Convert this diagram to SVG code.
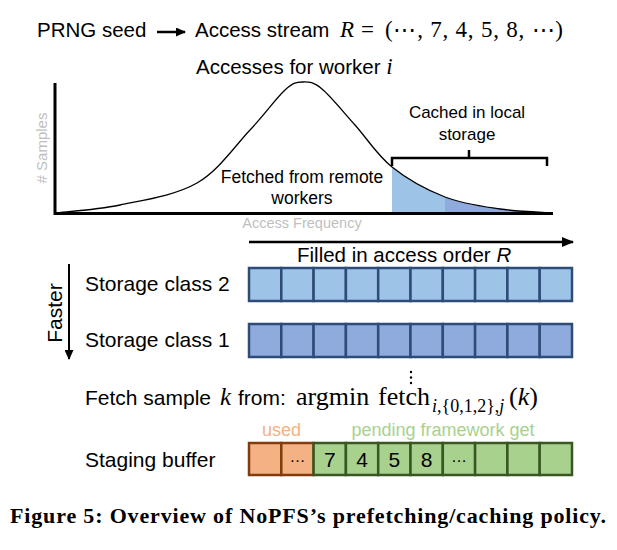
<svg xmlns="http://www.w3.org/2000/svg" width="617" height="550" viewBox="0 0 617 550">
<style>
  .sans { font-family: "Liberation Sans", Arial, sans-serif; fill: #000; }
  .serif { font-family: "Liberation Serif", "DejaVu Serif", serif; fill: #000; }
  .gray { fill: #BFBFBF; }
  .orange-t { fill: #F4B183; }
  .green-t { fill: #A9D18E; }
  .c2 { fill: #9DC3E6; stroke: #2F4C78; stroke-width: 2.5; }
  .c1 { fill: #8FAADC; stroke: #2F4C78; stroke-width: 2.5; }
  .used { fill: #F4B183; stroke: #843C0C; stroke-width: 2.5; }
  .pend { fill: #A9D18E; stroke: #385723; stroke-width: 2.5; }
  .conn { stroke: #000; fill: none; }
</style>
<defs>
  <marker id="ah" markerUnits="userSpaceOnUse" markerWidth="12" markerHeight="10" refX="11" refY="5" orient="auto">
    <path d="M0,0 L12,5 L0,10 Z" fill="#000"/>
  </marker>
  <marker id="ahs" markerUnits="userSpaceOnUse" markerWidth="10" markerHeight="9" refX="9" refY="4.5" orient="auto">
    <path d="M0,0 L10,4.5 L0,9 Z" fill="#000"/>
  </marker>
</defs>

<g id="title">
  <text class="sans" x="37" y="37" font-size="20.5">PRNG seed</text>
  <text class="sans" x="195" y="37" font-size="20.5">Access stream</text>
  <text class="serif" x="340" y="37" font-size="23" font-style="italic">R</text>
  <text class="serif" x="361" y="37" font-size="23">=</text>
  <text class="serif" x="385" y="37" font-size="23" textLength="178" lengthAdjust="spacing">(⋯, 7, 4, 5, 8, ⋯)</text>
</g>

<g id="chart">
  <text class="sans" x="196" y="74" font-size="20.5">Accesses for worker <tspan class="serif" font-style="italic" font-size="23">i</tspan></text>
  <path d="M392,213 L392,167 C407,179 427,190 445,197 L445,213 Z" fill="#9DC3E6"/>
  <path d="M445,213 L445,197 C463,204 482,206.3 500,209 C518,211.7 544.2,212.3 553,213 Z" fill="#8FAADC"/>
  <path d="M55,213 C65.8,211.7 96.3,210 120,205 C143.7,200 175.3,195.5 197,183 C218.7,170.5 235.3,145.5 250,130 C264.7,114.5 276.2,98 285,90 C293.8,82 296.8,82.2 303,82 C309.2,81.8 313.3,81.8 322,89 C330.7,96.2 343.3,112 355,125 C366.7,138 377,155 392,167 C407,179 427,190 445,197 C463,204 482,206.3 500,209 C518,211.7 544.2,212.3 553,213" fill="none" stroke="#000" stroke-width="1.3"/>
  <path d="M55,83 L55,213.5 L553,213.5" fill="none" stroke="#000" stroke-width="3"/>
  <text class="sans gray" transform="translate(47,148) rotate(-90)" text-anchor="middle" font-size="15">&#35; Samples</text>
  <text class="sans gray" x="302" y="228" text-anchor="middle" font-size="14.5">Access Frequency</text>
  <text class="sans" x="302" y="183" text-anchor="middle" font-size="17.5">Fetched from remote</text>
  <text class="sans" x="302" y="204" text-anchor="middle" font-size="17.5">workers</text>
  <path d="M392,166 L392,158 L547,158 L547,166 M469,158 L469,150" fill="none" stroke="#000" stroke-width="2.5"/>
  <text class="sans" x="467" y="118" text-anchor="middle" font-size="17">Cached in local</text>
  <text class="sans" x="467" y="140" text-anchor="middle" font-size="17">storage</text>
</g>

<g id="connectors">
  <line class="conn" x1="157" y1="32" x2="185" y2="32" stroke-width="2.5" marker-end="url(#ahs)"/>
  <line class="conn" x1="249" y1="242" x2="573" y2="242" stroke-width="2.5" marker-end="url(#ah)"/>
  <line class="conn" x1="69" y1="264" x2="69" y2="359" stroke-width="2" marker-end="url(#ahs)"/>
</g>

<g id="fill-order-label">
  <text class="sans" x="297" y="262" font-size="20.5">Filled in access order <tspan font-style="italic">R</tspan></text>
</g>

<g id="faster-label">
  <text class="sans" transform="translate(62,313) rotate(-90)" text-anchor="middle" font-size="21">Faster</text>
</g>

<g id="storage-class-2">
  <text class="sans" x="85" y="291" font-size="21">Storage class 2</text>
  <rect class="c2" x="249" y="268" width="32.3" height="33"/>
  <rect class="c2" x="281.3" y="268" width="32.3" height="33"/>
  <rect class="c2" x="313.6" y="268" width="32.3" height="33"/>
  <rect class="c2" x="345.9" y="268" width="32.3" height="33"/>
  <rect class="c2" x="378.2" y="268" width="32.3" height="33"/>
  <rect class="c2" x="410.5" y="268" width="32.3" height="33"/>
  <rect class="c2" x="442.8" y="268" width="32.3" height="33"/>
  <rect class="c2" x="475.1" y="268" width="32.3" height="33"/>
  <rect class="c2" x="507.4" y="268" width="32.3" height="33"/>
  <rect class="c2" x="539.7" y="268" width="32.3" height="33"/>
</g>

<g id="storage-class-1">
  <text class="sans" x="85" y="347" font-size="21">Storage class 1</text>
  <rect class="c1" x="249" y="324" width="32.3" height="33"/>
  <rect class="c1" x="281.3" y="324" width="32.3" height="33"/>
  <rect class="c1" x="313.6" y="324" width="32.3" height="33"/>
  <rect class="c1" x="345.9" y="324" width="32.3" height="33"/>
  <rect class="c1" x="378.2" y="324" width="32.3" height="33"/>
  <rect class="c1" x="410.5" y="324" width="32.3" height="33"/>
  <rect class="c1" x="442.8" y="324" width="32.3" height="33"/>
  <rect class="c1" x="475.1" y="324" width="32.3" height="33"/>
  <rect class="c1" x="507.4" y="324" width="32.3" height="33"/>
  <rect class="c1" x="539.7" y="324" width="32.3" height="33"/>
</g>

<g id="fetch-rule">
  <circle cx="411" cy="372" r="1.2" fill="#000"/>
  <circle cx="411" cy="377.5" r="1.2" fill="#000"/>
  <circle cx="411" cy="383" r="1.2" fill="#000"/>
  <text class="sans" x="85" y="405" font-size="21">Fetch sample</text>
  <text class="serif" x="220" y="405" font-size="25" font-style="italic">k</text>
  <text class="sans" x="238" y="405" font-size="21">from:</text>
  <text class="serif" x="296" y="405" font-size="26">argmin</text>
  <text class="serif" x="378" y="405" font-size="26">fetch</text>
  <text class="serif" x="432" y="412" font-size="18"><tspan font-style="italic">i</tspan>,{0,1,2},<tspan font-style="italic">j</tspan></text>
  <text class="serif" x="509" y="405" font-size="26">(<tspan font-style="italic">k</tspan>)</text>
</g>

<g id="staging-buffer">
  <text class="sans" x="85" y="467" font-size="21">Staging buffer</text>
  <text class="sans orange-t" x="281.5" y="436" text-anchor="middle" font-size="18">used</text>
  <text class="sans green-t" x="443" y="436" text-anchor="middle" font-size="18">pending framework get</text>
  <rect class="used" x="249" y="443" width="32.3" height="32"/>
  <rect class="used" x="281.3" y="443" width="32.3" height="32"/>
  <rect class="pend" x="313.6" y="443" width="32.3" height="32"/>
  <rect class="pend" x="345.9" y="443" width="32.3" height="32"/>
  <rect class="pend" x="378.2" y="443" width="32.3" height="32"/>
  <rect class="pend" x="410.5" y="443" width="32.3" height="32"/>
  <rect class="pend" x="442.8" y="443" width="32.3" height="32"/>
  <rect class="pend" x="475.1" y="443" width="32.3" height="32"/>
  <rect class="pend" x="507.4" y="443" width="32.3" height="32"/>
  <rect class="pend" x="539.7" y="443" width="32.3" height="32"/>
  <text class="sans" x="297.5" y="462" text-anchor="middle" font-size="16">…</text>
  <text class="sans" x="329.8" y="467" text-anchor="middle" font-size="21">7</text>
  <text class="sans" x="362.1" y="467" text-anchor="middle" font-size="21">4</text>
  <text class="sans" x="394.4" y="467" text-anchor="middle" font-size="21">5</text>
  <text class="sans" x="426.7" y="467" text-anchor="middle" font-size="21">8</text>
  <text class="sans" x="459" y="462" text-anchor="middle" font-size="16">…</text>
</g>

<g id="caption">
  <text class="serif" x="10" y="523" font-size="22" font-weight="bold" textLength="596" lengthAdjust="spacing">Figure 5: Overview of NoPFS’s prefetching/caching policy.</text>
</g>
</svg>
